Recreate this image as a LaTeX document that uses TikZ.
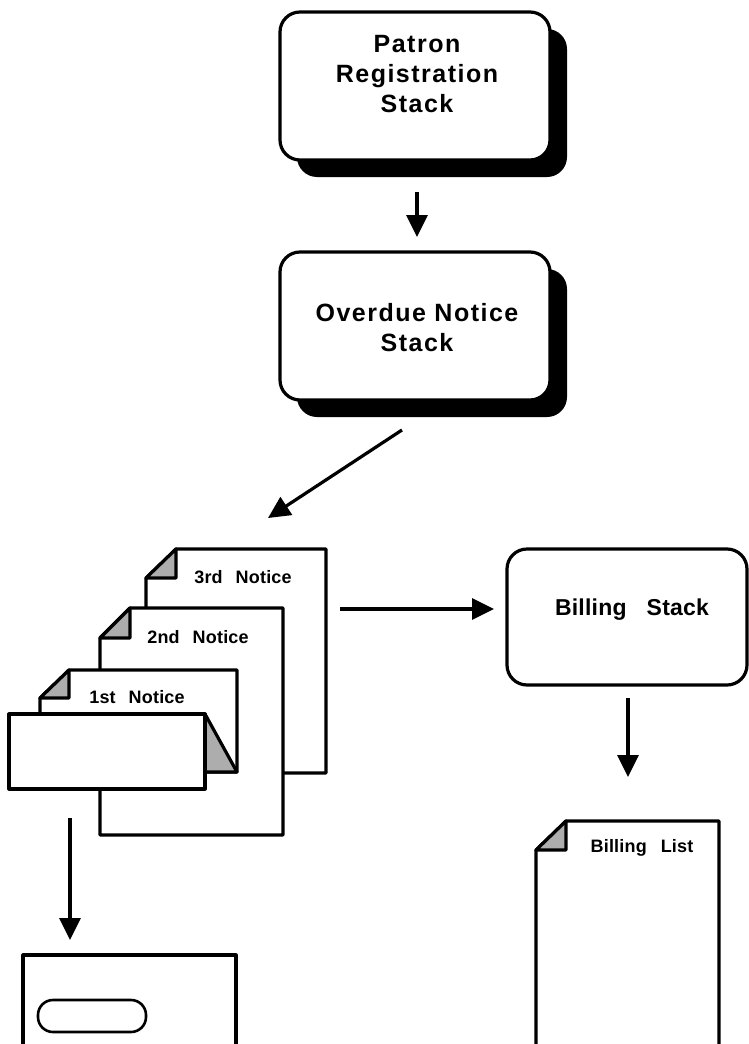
\documentclass[tikz,border=0pt]{standalone}
\usepackage{fontspec}
\setmainfont{Liberation Sans}
\newfontfamily\labfont[LetterSpace=6]{Liberation Sans}
\newfontfamily\labfontn[LetterSpace=1]{Liberation Sans}
\usetikzlibrary{arrows.meta,shadows}
\definecolor{foldgray}{gray}{0.68}
\begin{document}
\begin{tikzpicture}[x=1pt,y=-1pt,
  outline/.style={line width=3.2pt, line join=round},
  stackbox/.style={outline, draw=black, fill=white, rounded corners=20pt, inner sep=0pt},
  shadowed/.style={drop shadow={shadow xshift=17pt, shadow yshift=-17pt, fill=black, opacity=1}},
  bigtext/.style={font=\labfont\bfseries\fontsize{25}{30}\selectfont, align=center, inner sep=0pt},
  midtext/.style={font=\labfontn\bfseries\fontsize{23}{28}\selectfont, inner sep=0pt},
  smalltext/.style={font=\labfontn\bfseries\fontsize{18}{22}\selectfont, inner sep=0pt},
  page/.style={outline, draw=black, fill=white},
  fold/.style={outline, draw=black, fill=foldgray},
  flow/.style={line width=3.2pt, -{Triangle[length=22pt,width=21pt]}}
]
\useasboundingbox (0,0) rectangle (748,1044);

% --- stack boxes ---
\node[stackbox, shadowed, minimum width=270pt, minimum height=148pt] (pat) at (415,86) {};
\node[bigtext] (patT) at (417,74) {Patron\\Registration\\Stack};

\node[stackbox, shadowed, minimum width=270pt, minimum height=148pt] (ovd) at (415,326) {};
\node[bigtext] (ovdT) at (417,328) {Overdue Notice\\Stack};

\node[stackbox, minimum width=240pt, minimum height=136pt] (bil) at (627,617) {};
\node[midtext] (bilT) at (632,610) {Billing\hspace{20pt}Stack};

% --- notices (back to front) ---
\draw[page] (146,578) -- (176,549) -- (326,549) -- (326,773) -- (146,773) -- cycle;
\draw[fold] (146,578) -- (176,549) -- (176,578) -- cycle;
\node[smalltext] (n3) at (243,577) {3rd\hspace{13pt}Notice};

\draw[page] (100,638) -- (130,608) -- (283,608) -- (283,835) -- (100,835) -- cycle;
\draw[fold] (100,638) -- (130,608) -- (130,638) -- cycle;
\node[smalltext] (n2) at (198,637) {2nd\hspace{13pt}Notice};

\draw[page] (40,698) -- (69,670) -- (237,670) -- (237,772) -- (40,772) -- cycle;
\draw[fold] (40,698) -- (69,670) -- (69,698) -- cycle;
\node[smalltext] (n1) at (137,697) {1st\hspace{13pt}Notice};
\draw[fold] (205,714) -- (237,772) -- (205,772) -- cycle;
\draw[page] (9,714) rectangle (205,789);

% --- billing list ---
\draw[page] (536,850) -- (566,821) -- (719,821) -- (719,1070) -- (536,1070) -- cycle;
\draw[fold] (536,850) -- (566,821) -- (566,850) -- cycle;
\node[smalltext] (blT) at (642,848) {Billing\hspace{14pt}List};

% --- envelope ---
\draw[page] (23,955) rectangle (236,1070);
\draw[outline, line width=2.6pt, rounded corners=15pt] (38,1000) rectangle (146,1032);

% --- connectors ---
\coordinate (a1s) at (417,192); \coordinate (a1e) at (417,237);
\coordinate (a2s) at (402,430); \coordinate (a2e) at (268,518);
\coordinate (a3s) at (340,609); \coordinate (a3e) at (494,609);
\coordinate (a4s) at (628,698); \coordinate (a4e) at (628,777);
\coordinate (a5s) at (70,818);  \coordinate (a5e) at (70,940);
\draw[flow] (a1s) -- (a1e);
\draw[flow] (a2s) -- (a2e);
\draw[flow] (a3s) -- (a3e);
\draw[flow] (a4s) -- (a4e);
\draw[flow] (a5s) -- (a5e);
\end{tikzpicture}
\end{document}
